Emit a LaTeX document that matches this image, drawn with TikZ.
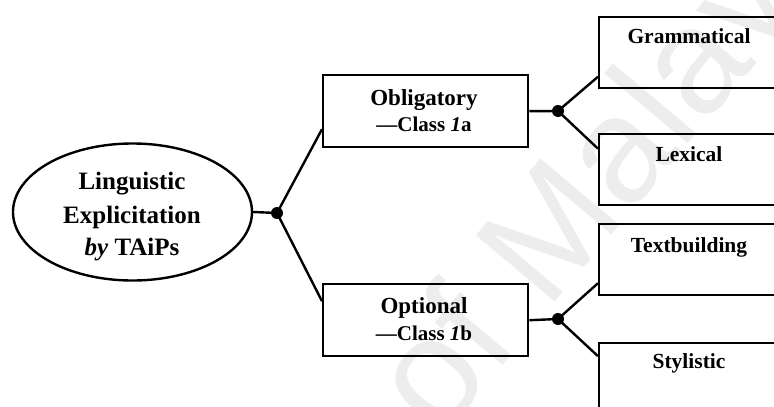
\documentclass[tikz,border=0pt]{standalone}
\usepackage{fontspec}
\setmainfont{Liberation Serif}
\newfontfamily\wmfont{Liberation Sans}
\usetikzlibrary{shapes.geometric}
\begin{document}
\begin{tikzpicture}[x=1pt,y=-1pt,line width=2.4pt,
  box/.style={draw,rectangle,line width=2.4pt,inner sep=0pt,anchor=north west},
  midbox/.style={box,minimum width=205pt,minimum height=72pt},
  leafbox/.style={box,minimum width=182pt,minimum height=71pt},
  big/.style={font=\fontsize{25}{28}\selectfont\bfseries,anchor=base,inner sep=0pt},
  mid/.style={font=\fontsize{23}{26}\selectfont\bfseries,anchor=base,inner sep=0pt},
  cls/.style={font=\fontsize{21}{24}\selectfont\bfseries,anchor=base,inner sep=0pt},
  leaf/.style={font=\fontsize{21.5}{24}\selectfont\bfseries,anchor=base,inner sep=0pt},
  jdot/.style={circle,fill,inner sep=0pt,minimum size=12pt},
  conn/.style={draw,line width=2.4pt}]
\useasboundingbox (0,0) rectangle (774,407);
\clip (0,0) rectangle (774,407);
% watermark
\node[anchor=base west,rotate=50,inner sep=0pt,text=black!7,
      font=\wmfont\fontsize{150}{150}\selectfont] (wm) at (440,440) {of Malaya};
% root
\node[draw,ellipse,line width=2.4pt,minimum width=239pt,minimum height=137pt,inner sep=0pt] (root) at (132.5,212) {};
\node[big] (r1) at (132,189) {Linguistic};
\node[big] (r2) at (132,223) {Explicitation};
\node[big] (r3) at (132,255) {\textit{by} TAiPs};
\node[jdot] (d0) at (277,213) {};
% middle boxes
\node[midbox] (obl) at (322,74) {};
\node[mid] (o1) at (424,105) {Obligatory};
\node[cls] (o2) at (424,131) {---Class \textit{1}a};
\node[midbox] (opt) at (322,283) {};
\node[mid] (p1) at (424,313) {Optional};
\node[cls] (p2) at (424,340) {---Class \textit{1}b};
\node[jdot] (d1) at (558,111) {};
\node[jdot] (d2) at (558,319) {};
% leaf boxes
\node[leafbox] (gra) at (598,16) {};
\node[leaf] (g1) at (689,43) {Grammatical};
\node[leafbox] (lex) at (598,133) {};
\node[leaf] (l1) at (689,161) {Lexical};
\node[leafbox] (txt) at (598,223) {};
\node[leaf] (t1) at (689,252) {Textbuilding};
\node[leafbox] (sty) at (598,342) {};
\node[leaf] (s1) at (689,368) {Stylistic};
% connectors
\draw[conn] (root.east) -- (d0.center);
\draw[conn] (d0.center) -- ([yshift=-18pt]obl.west);
\draw[conn] (d0.center) -- ([yshift=19pt]opt.west);
\draw[conn] (obl.east) -- (d1.center);
\draw[conn] (d1.center) -- ([yshift=-24pt]gra.west);
\draw[conn] (d1.center) -- ([yshift=21pt]lex.west);
\draw[conn] (opt.east) -- (d2.center);
\draw[conn] (d2.center) -- ([yshift=-23.5pt]txt.west);
\draw[conn] (d2.center) -- ([yshift=22.5pt]sty.west);
\end{tikzpicture}
\end{document}
